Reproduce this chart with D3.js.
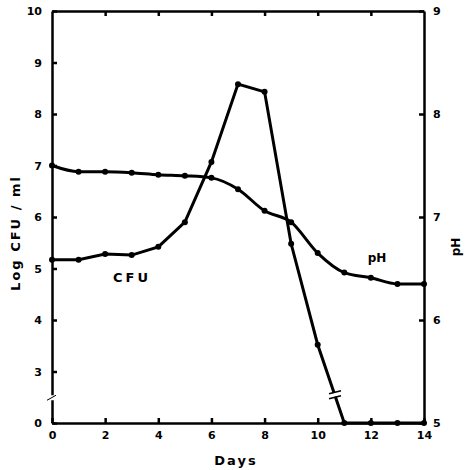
<!DOCTYPE html>
<html>
<head>
<meta charset="utf-8">
<script src="https://d3js.org/d3.v7.min.js"></script>
<style>
  body { margin: 0; background: #fff; }
  text { font-family: "DejaVu Sans", sans-serif; font-weight: bold; fill: #000; }
  .axis path, .axis line { stroke: #000; stroke-width: 2.5px; }
  .axis text { font-size: 11px; }
</style>
</head>
<body>
<svg width="470" height="470"></svg>
<script>
// data
var days = [0, 1, 2, 3, 4, 5, 6, 7, 8, 9, 10, 11, 12, 13, 14];
var logCfu = [5.17, 5.17, 5.28, 5.26, 5.42, 5.9, 7.07, 8.58, 8.43, 5.48, 3.52, 0, 0, 0, 0];
var ph = [7.5, 7.44, 7.44, 7.43, 7.41, 7.4, 7.38, 7.27, 7.06, 6.95, 6.65, 6.46, 6.41, 6.35, 6.35];
var dayTicks = [0, 2, 4, 6, 8, 10, 12, 14];
var cfuTicks = [0, 3, 4, 5, 6, 7, 8, 9, 10];
var phTicks = [5, 6, 7, 8, 9];

var svg = d3.select("svg");
var mLeft = 52, mRight = 424, mTop = 11, mBottom = 423;

var x = d3.scaleLinear().domain([0, 14]).range([mLeft, mRight]);
// left axis is broken: 0 sits where 2 would be
var yL = d3.scaleLinear().domain([2, 10]).range([mBottom, mTop]);
var yCfu = function(v) { return yL(v < 2 ? 2 : v); };
var yR = d3.scaleLinear().domain([5, 9]).range([mBottom, mTop]);

// axes
svg.append("g").attr("class", "axis")
    .attr("transform", "translate(0," + mBottom + ")")
    .call(d3.axisBottom(x).tickValues(dayTicks).tickSizeInner(-5).tickSizeOuter(0).tickPadding(10))
    .call(function(g) { g.selectAll("text").attr("dy", "0.5em"); });

svg.append("g").attr("class", "axis")
    .attr("transform", "translate(0," + mTop + ")")
    .call(d3.axisTop(x).tickValues(dayTicks.slice(1, -1)).tickSizeInner(-5).tickSizeOuter(0).tickFormat(""));

svg.append("g").attr("class", "axis")
    .attr("transform", "translate(" + mLeft + ",0)")
    .call(d3.axisLeft(yL).tickValues(cfuTicks.map(function(d) { return d === 0 ? 2 : d; }))
      .tickFormat(function(d) { return d === 2 ? "0" : d; })
      .tickSizeInner(-5).tickSizeOuter(0).tickPadding(10));

svg.append("g").attr("class", "axis")
    .attr("transform", "translate(" + mRight + ",0)")
    .call(d3.axisRight(yR).tickValues(phTicks).tickFormat(d3.format("d"))
      .tickSizeInner(-5).tickSizeOuter(0).tickPadding(9));

// break on left axis
var ly = yL(2.5);
svg.append("rect").attr("x", mLeft - 3).attr("y", ly - 2).attr("width", 6).attr("height", 5).attr("fill", "#fff");
svg.append("line").attr("x1", mLeft - 5).attr("y1", ly + 3).attr("x2", mLeft + 4).attr("y2", ly - 2)
    .attr("stroke", "#000").attr("stroke-width", 1);

// lines
var cfuLine = d3.line().x(function(d, i) { return x(days[i]); }).y(function(d) { return yCfu(d); });
var phLine = d3.line().curve(d3.curveMonotoneX).x(function(d, i) { return x(days[i]); }).y(function(d) { return yR(d); });

svg.append("path").attr("d", phLine(ph)).attr("fill", "none").attr("stroke", "#000").attr("stroke-width", 3);
svg.append("path").attr("d", cfuLine(logCfu)).attr("fill", "none").attr("stroke", "#000").attr("stroke-width", 3);

svg.selectAll(".ph-pt").data(ph).enter().append("circle")
    .attr("cx", function(d, i) { return x(days[i]); }).attr("cy", function(d) { return yR(d); })
    .attr("r", 3).attr("fill", "#000");
svg.selectAll(".cfu-pt").data(logCfu).enter().append("circle")
    .attr("cx", function(d, i) { return x(days[i]); }).attr("cy", function(d) { return yCfu(d); })
    .attr("r", 3).attr("fill", "#000");

// break on the CFU line between day 10 and 11
var bx = x(10.65), by = yCfu(2.55);
svg.append("rect").attr("x", bx - 5).attr("y", by - 2).attr("width", 10).attr("height", 4)
    .attr("fill", "#fff").attr("transform", "rotate(-20," + bx + "," + by + ")");
svg.append("line").attr("x1", bx - 6).attr("y1", by - 1).attr("x2", bx + 6).attr("y2", by - 4)
    .attr("stroke", "#000").attr("stroke-width", 1.5);
svg.append("line").attr("x1", bx - 6).attr("y1", by + 4).attr("x2", bx + 6).attr("y2", by + 1)
    .attr("stroke", "#000").attr("stroke-width", 1.5);

// labels
svg.append("text").attr("x", 132).attr("y", 282).attr("text-anchor", "middle")
    .style("font-size", "13px").style("letter-spacing", "3px").text("CFU");
svg.append("text").attr("x", 377).attr("y", 262).attr("text-anchor", "middle")
    .style("font-size", "12px").text("pH");
svg.append("text").attr("x", 236).attr("y", 465).attr("text-anchor", "middle")
    .style("font-size", "13px").style("letter-spacing", "2px").text("Days");
svg.append("text").attr("transform", "translate(20,233) rotate(-90)").attr("text-anchor", "middle")
    .style("font-size", "13px").style("letter-spacing", "2px").text("Log CFU / ml");
svg.append("text").attr("transform", "translate(460,247) rotate(-90)").attr("text-anchor", "middle")
    .style("font-size", "12px").text("pH");
</script>
</body>
</html>
